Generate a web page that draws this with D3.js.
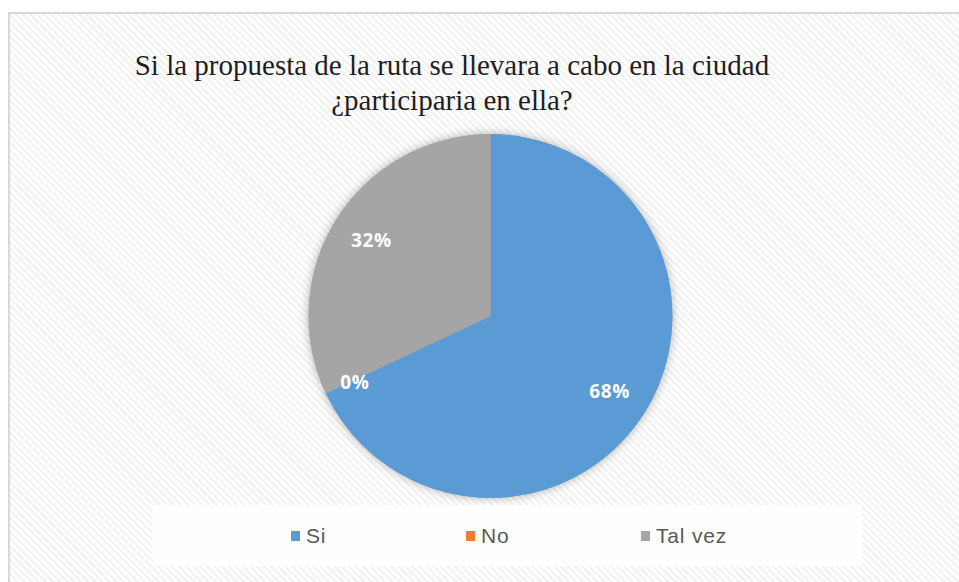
<!DOCTYPE html>
<html><head><meta charset="utf-8">
<script src="https://cdn.jsdelivr.net/npm/d3@7"></script>
<style>html,body{margin:0;padding:0;background:#fff;}svg{display:block;}</style>
</head><body>
<script>
const categories = ["Si", "No", "Tal vez"];
const values = [68, 0, 32];
const colors = ["#5b9bd5", "#ed7d31", "#a5a5a5"];
const titleLines = ["Si la propuesta de la ruta se llevara a cabo en la ciudad", "¿participaria en ella?"];

const W = 959, H = 582;
const svg = d3.select("body").append("svg").attr("width", W).attr("height", H);
const defs = svg.append("defs");
const pat = defs.append("pattern").attr("id", "hatch").attr("patternUnits", "userSpaceOnUse")
  .attr("width", 5).attr("height", 5).attr("patternTransform", "rotate(-45)");
pat.append("rect").attr("width", 5).attr("height", 5).attr("fill", "#ffffff");
pat.append("rect").attr("width", 2.2).attr("height", 5).attr("fill", "#f1f1f1");
const f = defs.append("filter").attr("id", "shadow").attr("x", "-20%").attr("y", "-20%").attr("width", "140%").attr("height", "140%");
f.append("feDropShadow").attr("dx", 0).attr("dy", 0).attr("stdDeviation", 5).attr("flood-color", "#000").attr("flood-opacity", 0.3);

svg.append("rect").attr("x", 9).attr("y", 13).attr("width", W).attr("height", H)
  .attr("fill", "url(#hatch)").attr("stroke", "#d9d9d9").attr("stroke-width", 2);

svg.append("g").selectAll("text").data(titleLines).join("text")
  .attr("x", 452).attr("y", (d, i) => 75 + i * 35)
  .attr("text-anchor", "middle")
  .attr("font-family", "'Liberation Serif','Times New Roman',serif")
  .attr("font-size", 29).attr("fill", "#1e1e1e").text(d => d);

const cx = 490.5, cy = 316, r = 182;
const data = categories.map((c, i) => ({ cat: c, value: values[i], color: colors[i] }));
const pie = d3.pie().sort(null).value(d => d.value);
const arcs = pie(data);
const arc = d3.arc().innerRadius(0).outerRadius(r);
const g = svg.append("g").attr("transform", `translate(${cx},${cy})`);
g.append("circle").attr("r", r).attr("fill", "#a5a5a5").attr("filter", "url(#shadow)");
g.selectAll("path").data(arcs).join("path").attr("d", arc).attr("fill", d => d.data.color);

const labelArc = d3.arc().innerRadius(r * 0.775).outerRadius(r * 0.775);
g.selectAll("text.lbl").data(arcs).join("text").attr("class", "lbl")
  .attr("transform", d => {
    let [x, y] = labelArc.centroid(d);
    if (d.data.value === 0) { x -= 8; y += 6; }
    return `translate(${x},${y})`;
  })
  .attr("text-anchor", "middle").attr("dy", "0.36em")
  .attr("font-family", "'Open Sans','Liberation Sans',sans-serif").attr("font-weight", "bold")
  .attr("font-size", 19).attr("letter-spacing", 0.6).attr("fill", "#ffffff")
  .text(d => d.data.value + "%");

svg.append("rect").attr("x", 152).attr("y", 505).attr("width", 710).attr("height", 61).attr("fill", "#ffffff").attr("fill-opacity", 0.85);
const legX = d3.scalePoint().domain(categories).range([291, 641]);
const lg = svg.append("g").selectAll("g").data(data).join("g")
  .attr("transform", d => `translate(${legX(d.cat)},536)`);
lg.append("rect").attr("x", 0).attr("y", -5).attr("width", 9).attr("height", 10).attr("fill", d => d.color);
lg.append("text").attr("x", 15).attr("dy", "0.35em")
  .attr("font-family", "'Liberation Sans','Arial',sans-serif").attr("font-size", 21)
  .attr("letter-spacing", 0.8)
  .attr("fill", "#595959").text(d => d.cat);
</script>
</body></html>
